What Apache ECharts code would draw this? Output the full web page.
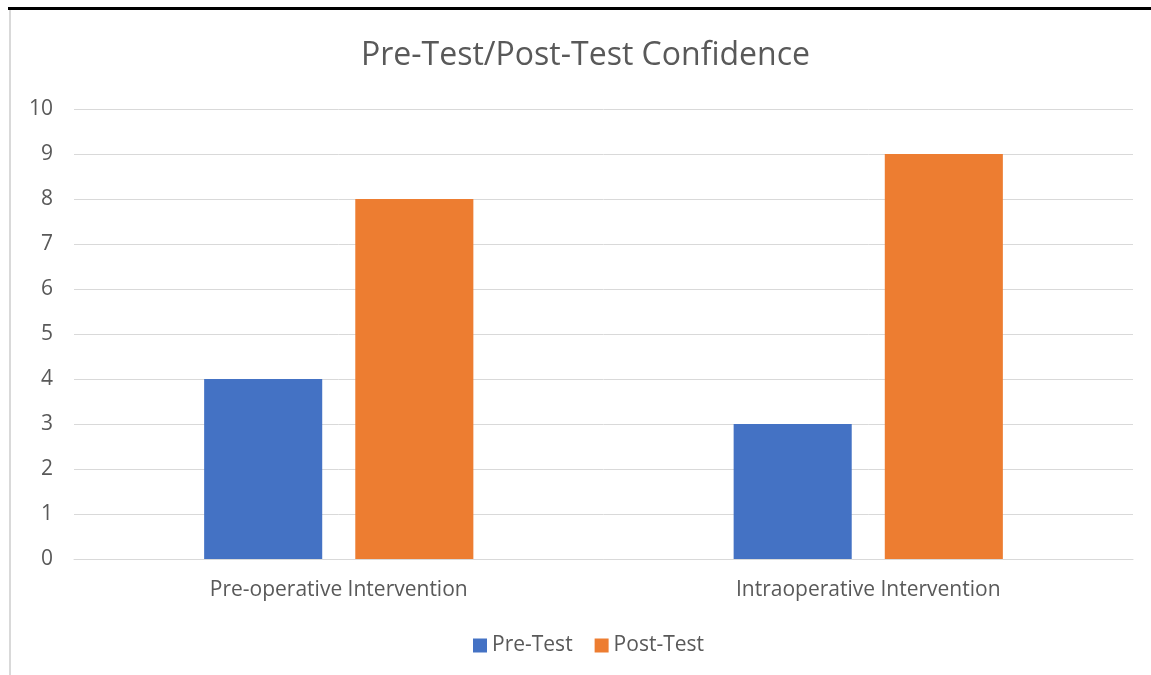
<!DOCTYPE html>
<html>
<head>
<meta charset="utf-8">
<script src="https://cdn.jsdelivr.net/npm/echarts@6/dist/echarts.min.js"></script>
<style>
html, body { margin: 0; padding: 0; background: #fff; }
#topRule { position: absolute; left: 8px; top: 7px; width: 1143px; height: 3px; background: #000; }
#leftRule { position: absolute; left: 9px; top: 10px; width: 2px; height: 665px; background: #d9d9d9; }
#chart { position: absolute; left: 0; top: 0; width: 1151px; height: 675px; }
</style>
</head>
<body>
<div id="chart"></div>
<div id="topRule"></div>
<div id="leftRule"></div>
<script>
// values
var categories = ['Pre-operative Intervention', 'Intraoperative Intervention'];
var preTest = [4, 3];
var postTest = [8, 9];
var seriesNames = ['Pre-Test', 'Post-Test'];

var font = 'Open Sans';
var chart = echarts.init(document.getElementById('chart'));
chart.setOption({
    animation: false,
    color: ['#4472C4', '#ED7D31'],
    title: {
        text: 'Pre-Test/Post-Test Confidence',
        left: 356,
        top: 35,
        textStyle: { fontFamily: font, fontSize: 32, fontWeight: 'normal', color: '#595959' }
    },
    legend: {
        data: seriesNames,
        bottom: 14,
        left: 468,
        itemWidth: 14,
        itemHeight: 14,
        itemGap: 22,
        icon: 'rect',
        textStyle: { fontFamily: font, fontSize: 21, color: '#595959' }
    },
    grid: { left: 74, right: 18, top: 109, bottom: 116 },
    xAxis: {
        type: 'category',
        data: categories,
        axisLine: { show: true, lineStyle: { color: '#d9d9d9', width: 1 } },
        axisTick: { show: false },
        axisLabel: { fontFamily: font, fontSize: 21, color: '#595959', margin: 21 }
    },
    yAxis: {
        type: 'value',
        min: 0,
        max: 10,
        interval: 1,
        axisLine: { show: false },
        axisTick: { show: false },
        splitLine: { lineStyle: { color: '#d9d9d9', width: 1 } },
        axisLabel: { fontFamily: font, fontSize: 21, color: '#595959', margin: 21 }
    },
    series: [
        { name: seriesNames[0], type: 'bar', data: preTest, barWidth: '22.3%', barGap: '28%' },
        { name: seriesNames[1], type: 'bar', data: postTest, barWidth: '22.3%', barGap: '28%' }
    ]
});
</script>
</body>
</html>
